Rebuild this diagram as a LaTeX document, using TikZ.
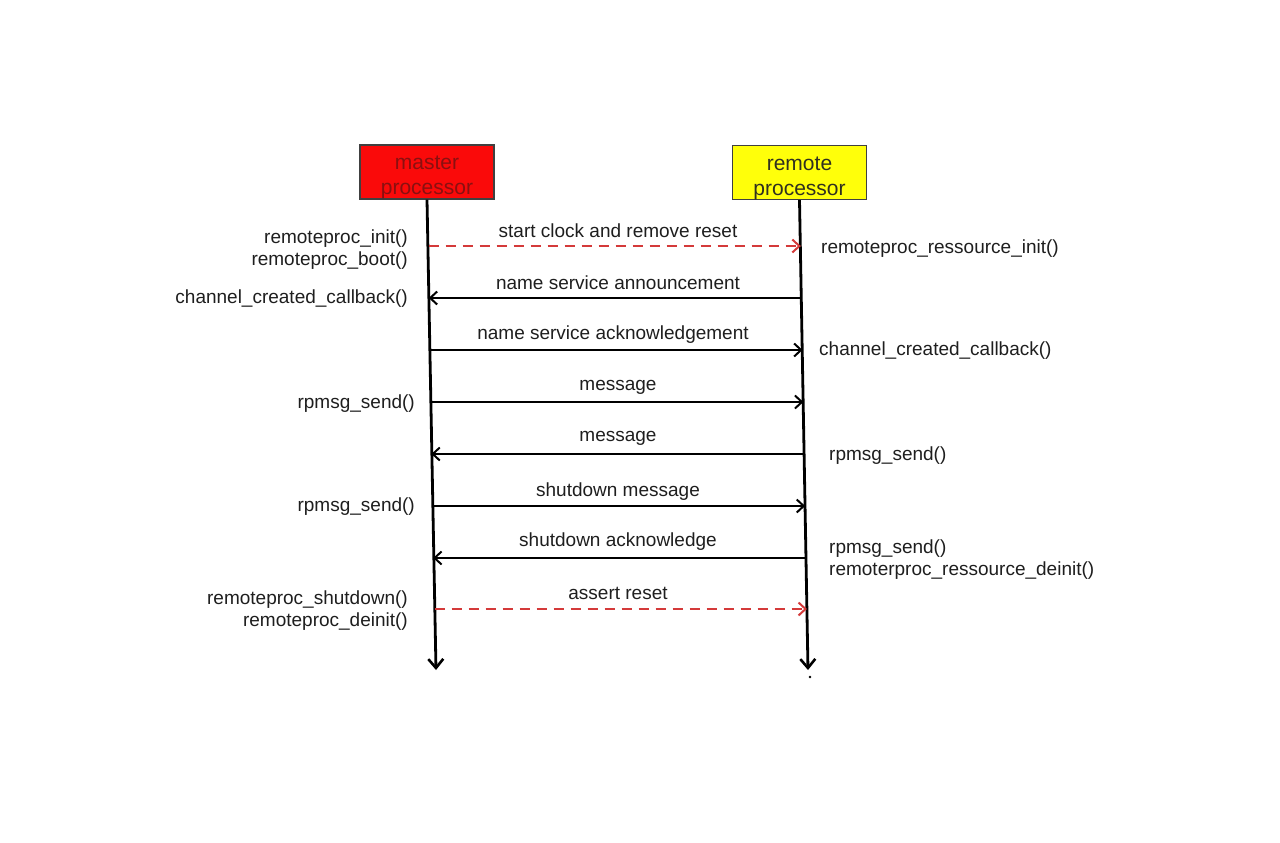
\documentclass[tikz,border=0pt]{standalone}
\usepackage{fontspec}
\setmainfont{Liberation Sans}
\usetikzlibrary{arrows.meta}
\definecolor{txt}{HTML}{1E1E1E}
\definecolor{redfill}{HTML}{FA0A0A}
\definecolor{redtxt}{HTML}{8A1010}
\definecolor{yelfill}{HTML}{FFFF0A}
\definecolor{yeltxt}{HTML}{303020}
\definecolor{dashred}{HTML}{D43A3A}
\definecolor{boxline}{HTML}{404040}
\begin{document}
\begin{tikzpicture}[x=1pt,y=-1pt,
  proc/.style={draw=boxline,line width=1.2pt,minimum width=134pt,minimum height=54pt,inner sep=0pt,align=center,font=\fontsize{21}{25}\selectfont},
  lbl/.style={text=txt,font=\fontsize{19}{22}\selectfont,inner sep=0pt,align=left},
  lbll/.style={lbl,anchor=east,align=right},
  lblr/.style={lbl,anchor=west,align=left},
  mlbl/.style={lbl,anchor=center},
  life/.style={line width=2.8pt,-{Straight Barb[length=9pt,width=15pt,line width=2.6pt]}},
  msg/.style={line width=2.2pt,-{Straight Barb[length=7pt,width=13pt,line width=2pt]}},
  dmsg/.style={msg,line width=2.4pt,draw=dashred,dash pattern=on 10pt off 7pt}]
\useasboundingbox (0,0) rectangle (1280,843);

\node[proc,fill=redfill,text=redtxt] (master) at (427,172) {\raisebox{-5pt}[\height][\depth]{\begin{tabular}{@{}c@{}}master\\processor\end{tabular}}};
\node[proc,fill=yelfill,text=yeltxt] (remote) at (799.5,172.5) {\raisebox{-5pt}[\height][\depth]{\begin{tabular}{@{}c@{}}remote\\processor\end{tabular}}};

\coordinate (mend) at (436,670);
\coordinate (rend) at (808,670);
\draw[life] (master.south) -- (mend);
\draw[life] (remote.south) -- (rend);
\fill[black] (810,677) circle (1.3pt);

% lifeline points
\coordinate (m1) at (428.5,246); \coordinate (r1) at (800.8,246);
\coordinate (m2) at (428.7,298); \coordinate (r2) at (801.7,298);
\coordinate (m3) at (429.6,350); \coordinate (r3) at (802.6,350);
\coordinate (m4) at (430.4,402); \coordinate (r4) at (803.4,402);
\coordinate (m5) at (431.3,454); \coordinate (r5) at (804.3,454);
\coordinate (m6) at (432.2,506); \coordinate (r6) at (805.2,506);
\coordinate (m7) at (433.1,558); \coordinate (r7) at (806.1,558);
\coordinate (m8) at (434.5,609); \coordinate (r8) at (807.0,609);

\draw[dmsg] (m1) -- (r1);
\draw[msg] (r2) -- (m2);
\draw[msg] (m3) -- (r3);
\draw[msg] (m4) -- (r4);
\draw[msg] (r5) -- (m5);
\draw[msg] (m6) -- (r6);
\draw[msg] (r7) -- (m7);
\draw[dmsg] (m8) -- (r8);

\node[mlbl] (t1) at (618,231) {start clock and remove reset};
\node[mlbl] (t2) at (618,283) {name service announcement};
\node[mlbl] (t3) at (613,335) {name service acknowledgement};
\node[mlbl] (t4) at (618,387) {message};
\node[mlbl] (t5) at (618,438) {message};
\node[mlbl] (t6) at (618,492) {shutdown message};
\node[mlbl] (t7) at (618,542) {shutdown acknowledge};
\node[mlbl] (t8) at (618,593) {assert reset};

% left labels
\node[lbll] (l1) at (408,250) {remoteproc\_init()\\remoteproc\_boot()};
\node[lbll] (l2) at (408,299) {channel\_created\_callback()};
\node[lbll] (l3) at (415,404) {rpmsg\_send()};
\node[lbll] (l4) at (415,507) {rpmsg\_send()};
\node[lbll] (l5) at (408,611) {remoteproc\_shutdown()\\remoteproc\_deinit()};

% right labels
\node[lblr] (r1l) at (821,249) {remoteproc\_ressource\_init()};
\node[lblr] (r2l) at (819,351) {channel\_created\_callback()};
\node[lblr] (r3l) at (829,456) {rpmsg\_send()};
\node[lblr] (r4l) at (829,559.5) {rpmsg\_send()\\remoterproc\_ressource\_deinit()};
\end{tikzpicture}
\end{document}
